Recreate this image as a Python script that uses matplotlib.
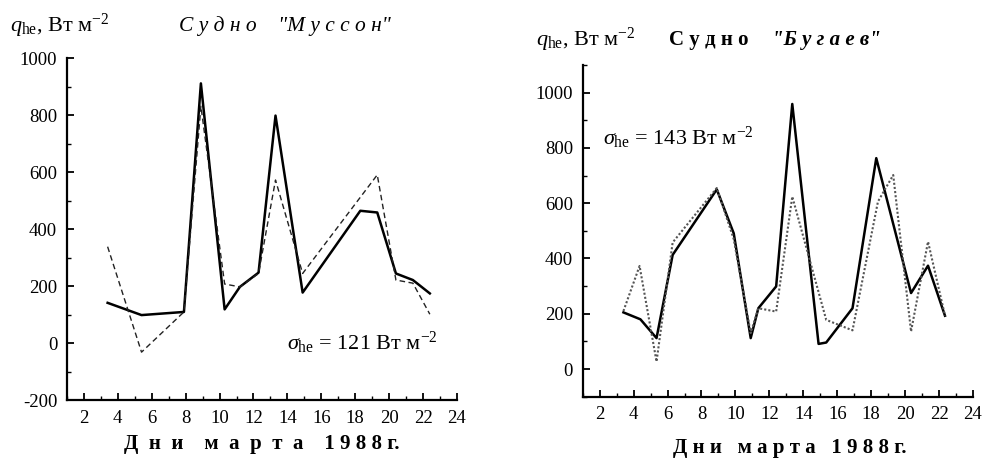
import numpy as np
import matplotlib
matplotlib.use("Agg")
import matplotlib.pyplot as plt
from matplotlib.ticker import MultipleLocator

plt.rcParams['font.family'] = ['Liberation Serif', 'DejaVu Serif']
plt.rcParams['mathtext.fontset'] = 'custom'
plt.rcParams['mathtext.rm'] = 'Liberation Serif'
plt.rcParams['mathtext.it'] = 'Liberation Serif:italic'
plt.rcParams['mathtext.bf'] = 'Liberation Serif:bold'
plt.rcParams['axes.unicode_minus'] = False

# --- "Муссон" ---
musson_x_obs = [3.4, 5.4, 7.9, 8.9, 10.3, 11.2, 12.3, 13.3, 14.9, 18.3, 19.3, 20.4, 21.4, 22.4]
musson_obs = [141, 98, 109, 911, 118, 197, 247, 798, 177, 464, 458, 244, 221, 174]
musson_x_calc = [3.4, 5.4, 7.9, 8.9, 10.3, 11.2, 12.3, 13.3, 14.9, 19.3, 20.4, 21.4, 22.4]
musson_calc = [338, -32, 109, 831, 207, 197, 244, 572, 244, 590, 221, 210, 101]

# --- "Бугаев" ---
bugaev_x_obs = [3.4, 4.4, 5.35, 6.3, 8.9, 9.9, 10.9, 11.35, 12.4, 13.35, 14.9, 15.35, 16.9, 18.3, 20.35, 21.35, 22.35]
bugaev_obs = [205, 180, 112, 413, 650, 491, 112, 220, 299, 959, 91, 96, 220, 763, 275, 374, 193]
bugaev_x_calc = [3.4, 4.35, 5.35, 6.3, 8.9, 9.9, 10.9, 11.35, 12.4, 13.35, 15.35, 16.9, 18.4, 19.3, 20.35, 21.35, 22.35]
bugaev_calc = [210, 373, 27, 458, 655, 470, 130, 220, 208, 624, 178, 140, 606, 702, 136, 461, 193]

xticks = np.arange(2, 25, 2)
xlabel_left = "Д  н  и    м  а  р  т  а    1 9 8 8 г."
xlabel_right = "Д н и   м а р т а   1 9 8 8 г."
ylabel = r"$q_{\mathrm{he}}$, Вт м$^{-2}$"


def style_axes(ax, ylim, yticks, xlabel):
    ax.set_xlim(1, 24)
    ax.set_ylim(*ylim)
    ax.set_xticks(xticks)
    ax.set_yticks(yticks)
    ax.xaxis.set_minor_locator(MultipleLocator(1))
    ax.yaxis.set_minor_locator(MultipleLocator(100))
    for s in ['top', 'right']:
        ax.spines[s].set_visible(False)
    for s in ['left', 'bottom']:
        ax.spines[s].set_linewidth(1.6)
    ax.tick_params(which='major', direction='in', length=5, width=1.3, labelsize=13.5, pad=7)
    ax.tick_params(which='minor', direction='in', length=3, width=1.0)
    ax.set_xlabel(xlabel, fontsize=15, fontweight='bold', labelpad=5)


fig = plt.figure(figsize=(9.84, 4.66), dpi=100)

# left panel
ax1 = fig.add_axes([0.068, 0.1416, 0.3964, 0.7339])
ax1.plot(musson_x_obs, musson_obs, color='black', lw=1.8)
ax1.plot(musson_x_calc, musson_calc, color='#222222', lw=1.0, ls=(0, (4, 2.5)))
style_axes(ax1, (-200, 1000), np.arange(-200, 1001, 200), xlabel_left)
ax1.text(13.95, 0, r"$\sigma_{\mathrm{he}}$ = 121 Вт м$^{-2}$", fontsize=16, va='center')
fig.text(0.01, 0.945, ylabel, fontsize=16, va='center')
fig.text(0.182, 0.945, "С у д н о    \"М у с с о н\"", fontsize=15.5, style='italic', va='center')

# right panel
ax2 = fig.add_axes([0.5922, 0.1487, 0.3966, 0.7118])
ax2.plot(bugaev_x_obs, bugaev_obs, color='black', lw=1.8)
ax2.plot(bugaev_x_calc, bugaev_calc, color='#555555', lw=1.5, ls=(0, (1, 1)))
style_axes(ax2, (-100, 1100), np.arange(0, 1001, 200), xlabel_right)
ax2.xaxis.set_label_coords(0.53, -0.125)
ax2.text(2.2, 835, r"$\sigma_{\mathrm{he}}$ = 143 Вт м$^{-2}$", fontsize=16, va='center')
fig.text(0.545, 0.915, ylabel, fontsize=16, va='center')
fig.text(0.68, 0.915, "С у д н о", fontsize=15, fontweight='bold', va='center')
fig.text(0.785, 0.915, "\"Б у г а е в\"", fontsize=15, style='italic', fontweight='bold', va='center')

fig.savefig("out.png", dpi=100)
